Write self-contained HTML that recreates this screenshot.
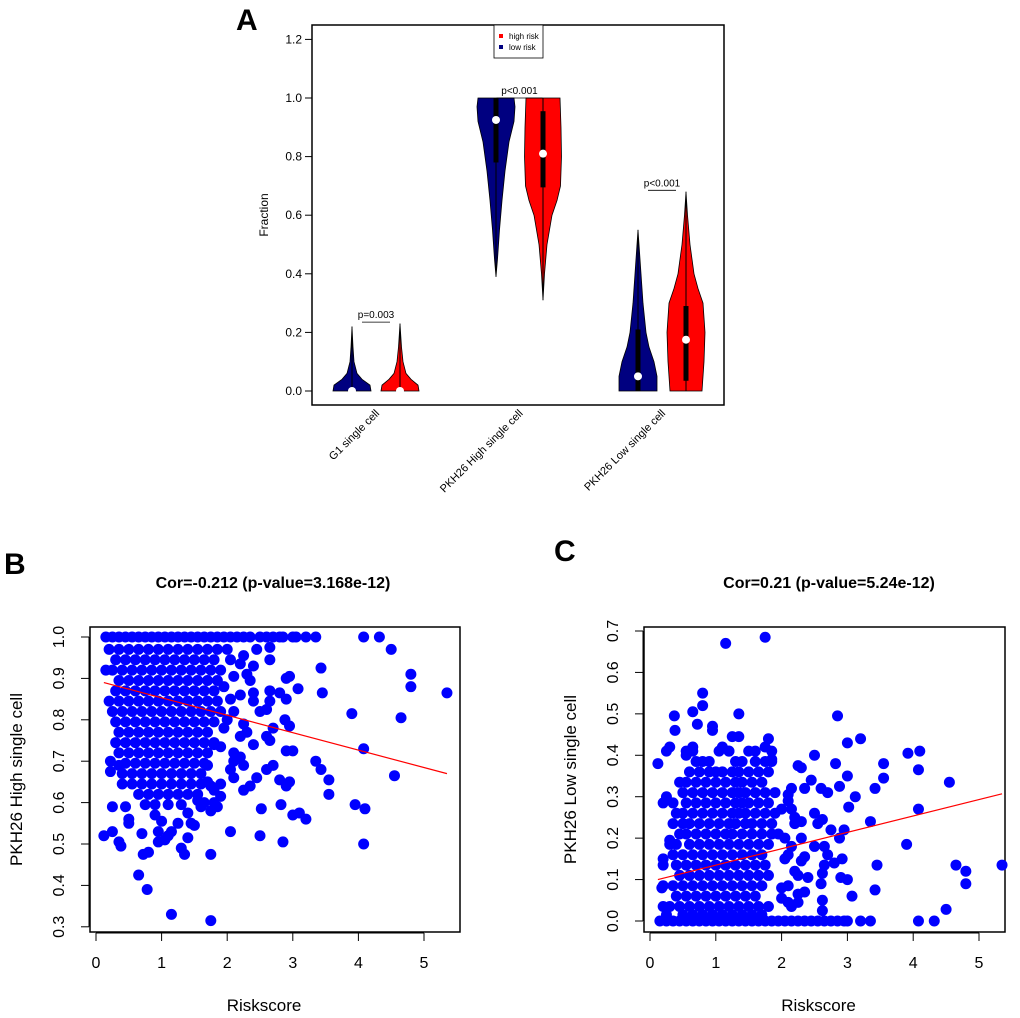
<!DOCTYPE html>
<html><head><meta charset="utf-8"><style>
html,body{margin:0;padding:0;background:#fff;}
svg{display:block;font-family:"Liberation Sans",Arial,sans-serif;}
</style></head><body>
<svg id="fig" width="1020" height="1018" viewBox="0 0 1020 1018" xmlns="http://www.w3.org/2000/svg">
<rect width="1020" height="1018" fill="#fff"/>
<text x="236" y="30" font-size="30" font-weight="bold">A</text>
<text x="4" y="574" font-size="30" font-weight="bold">B</text>
<text x="554" y="561" font-size="30" font-weight="bold">C</text>
<g id="pa"></g>
<g id="pb"></g>
<g id="pc"></g>
</svg>
<script>
// ---------- Panel A data ----------
const violinCategories = ["G1 single cell","PKH26 High single cell","PKH26 Low single cell"];
const violinGroups = ["low risk","high risk"];
const violinPValues = ["p=0.003","p<0.001","p<0.001"];
const violinPHeights = [0.235,1.0,0.685];
const yTicksA = [0,0.2,0.4,0.6,0.8,1.0,1.2];
const lowProfiles = [
 [[0,19],[0.02,18],[0.04,10],[0.06,5],[0.1,2],[0.15,1],[0.22,0]],
 [[0.39,0],[0.45,1.5],[0.55,3.5],[0.65,6],[0.75,9],[0.85,13],[0.92,18],[0.97,19],[1.0,18]],
 [[0,19],[0.05,19],[0.1,16],[0.15,11],[0.2,8],[0.3,5],[0.4,3],[0.5,1],[0.55,0]]
];
const highProfiles = [
 [[0,19],[0.02,18],[0.04,11],[0.06,6],[0.1,3],[0.15,1.5],[0.23,0]],
 [[0.31,0],[0.4,1.5],[0.5,4],[0.6,9],[0.65,14],[0.7,17.5],[0.8,18.5],[0.9,18],[1.0,17]],
 [[0,16],[0.05,17],[0.1,18],[0.2,19],[0.3,17],[0.35,12],[0.4,8],[0.5,4],[0.6,1.5],[0.68,0]]
];
const lowMedian=[0,0.925,0.05], lowQ1=[0,0.78,0], lowQ3=[0.01,1.0,0.21], lowMin=[0,0.39,0], lowMax=[0.22,1.0,0.55];
const highMedian=[0,0.81,0.175], highQ1=[0,0.695,0.035], highQ3=[0.01,0.955,0.29], highMin=[0,0.31,0], highMax=[0.23,1.0,0.68];

// ---------- Panel B data ----------
const bRowY = [0.97,0.945,0.92,0.895,0.87,0.845,0.82,0.795,0.77,0.745,0.72,0.695,0.67,0.645,0.62,0.595,1.0];
const bRowX = [
 [0.2,0.35,0.5,0.65,0.8,0.95,1.1,1.25,1.4,1.55,1.7,1.85,2.0],
 [0.3,0.45,0.6,0.75,0.9,1.05,1.2,1.35,1.5,1.65,1.8],
 [0.15,0.25,0.4,0.55,0.7,0.85,1.0,1.15,1.3,1.45,1.6,1.75,1.9],
 [0.35,0.5,0.65,0.8,0.95,1.1,1.25,1.4,1.55,1.7,1.85],
 [0.3,0.45,0.6,0.75,0.9,1.05,1.2,1.35,1.5,1.65,1.8],
 [0.2,0.35,0.5,0.65,0.8,0.95,1.1,1.25,1.4,1.55,1.7,1.85],
 [0.25,0.4,0.55,0.7,0.85,1.0,1.15,1.3,1.45,1.6,1.75,1.9],
 [0.3,0.45,0.6,0.75,0.9,1.05,1.2,1.35,1.5,1.65,1.8],
 [0.35,0.5,0.65,0.8,0.95,1.1,1.25,1.4,1.55,1.7],
 [0.3,0.45,0.6,0.75,0.9,1.05,1.2,1.35,1.5,1.65,1.8],
 [0.35,0.5,0.65,0.8,0.95,1.1,1.25,1.4,1.55,1.7],
 [0.45,0.6,0.75,0.9,1.05,1.2,1.35,1.5,1.65],
 [0.4,0.55,0.7,0.85,1.0,1.15,1.3,1.45,1.6],
 [0.4,0.55,0.7,0.85,1.0,1.15,1.3,1.45,1.6],
 [0.65,0.8,0.95,1.1,1.25,1.4,1.55],
 [0.75,0.9,1.1,1.3],
 [0.15,0.25,0.35,0.45,0.55,0.65,0.75,0.85,0.95,1.05,1.15,1.25,1.35,1.45,1.55,1.65,1.75,1.85,1.95,2.05,2.15,2.25,2.35,2.5,2.6,2.7,2.8,2.85,3.0,3.05,3.2,3.35,4.08,4.32]
];
const bExtra = [[4.5,0.97],[4.8,0.91],[4.8,0.88],[5.35,0.865],[3.43,0.925],[3.45,0.865],[3.9,0.815],[4.65,0.805],[4.08,0.73],[4.55,0.665],[3.35,0.70],[3.43,0.68],[3.55,0.655],[3.55,0.62],[3.95,0.595],[4.1,0.585],[4.08,0.5],[2.9,0.9],[2.95,0.905],[3.08,0.875],[2.9,0.85],[2.8,0.865],[2.65,0.87],[2.65,0.975],[2.65,0.945],[2.88,0.80],[2.95,0.785],[2.9,0.725],[3.0,0.725],[2.8,0.655],[2.9,0.64],[2.95,0.65],[3.0,0.57],[3.1,0.575],[3.2,0.56],[2.82,0.595],[2.52,0.585],[2.5,0.52],[2.85,0.505],[2.05,0.53],[1.75,0.475],[1.75,0.315],[1.15,0.33],[0.78,0.39],[0.65,0.425],[0.72,0.475],[0.8,0.48],[0.12,0.52],[0.25,0.53],[0.35,0.505],[0.38,0.495],[0.25,0.59],[0.45,0.59],[0.22,0.70],[0.22,0.675],[0.35,0.69],[0.5,0.55],[0.5,0.56],[0.7,0.525],[0.95,0.505],[1.05,0.51],[1.1,0.52],[1.15,0.53],[1.25,0.55],[1.3,0.49],[1.35,0.475],[1.4,0.515],[1.4,0.575],[1.45,0.55],[1.5,0.545],[0.9,0.57],[0.95,0.53],[1.0,0.555],[2.7,0.69],[2.6,0.68],[2.45,0.66],[2.35,0.64],[2.25,0.63],[2.4,0.74],[2.6,0.76],[2.65,0.75],[2.7,0.78],[2.5,0.82],[2.6,0.825],[2.65,0.845],[2.4,0.865],[2.4,0.845],[2.35,0.895],[2.3,0.91],[2.4,0.93],[2.45,0.97],[2.2,0.935],[2.25,0.955],[2.05,0.945],[2.1,0.905],[1.95,0.88],[2.05,0.85],[2.1,0.82],[2.2,0.86],[2.25,0.79],[2.3,0.77],[2.2,0.76],[2.1,0.72],[2.1,0.70],[2.2,0.71],[2.25,0.69],[2.1,0.66],[2.05,0.68],[1.9,0.645],[1.9,0.615],[1.85,0.59],[1.8,0.60],[1.75,0.58],[1.65,0.6],[1.6,0.59],[1.55,0.605],[1.9,0.735],[2.0,0.80],[1.95,0.78],[1.8,0.74],[1.7,0.69],[1.7,0.65],[1.75,0.64],[1.8,0.63]];
const bLineX = [0.12,5.35], bLineY = [0.89,0.67];
const bYTicks = [0.3,0.4,0.5,0.6,0.7,0.8,0.9,1.0];

// ---------- Panel C data ----------
const cRowY = [0.41,0.385,0.36,0.335,0.31,0.285,0.26,0.235,0.21,0.185,0.16,0.135,0.11,0.085,0.06,0.035,0.015,0];
const cRowX = [
 [0.25,0.55,0.65,1.05,1.2,1.5,1.6,1.85],
 [0.7,0.8,0.9,1.3,1.4,1.6,1.75,1.85],
 [0.6,0.75,0.9,1.0,1.1,1.25,1.35,1.5,1.65,1.8],
 [0.45,0.55,0.7,0.85,1.0,1.15,1.3,1.4,1.55,1.7],
 [0.5,0.65,0.8,0.95,1.1,1.25,1.35,1.45,1.6,1.75,1.9],
 [0.2,0.35,0.55,0.7,0.85,1.0,1.15,1.3,1.4,1.5,1.65,1.8],
 [0.4,0.5,0.65,0.8,0.95,1.1,1.25,1.35,1.45,1.6,1.75,1.9],
 [0.35,0.5,0.6,0.75,0.9,1.05,1.2,1.3,1.45,1.55,1.7,1.85],
 [0.45,0.55,0.7,0.85,1.0,1.15,1.25,1.4,1.55,1.7,1.85],
 [0.3,0.4,0.6,0.75,0.9,1.05,1.2,1.35,1.5,1.65,1.8],
 [0.35,0.5,0.65,0.8,0.95,1.1,1.25,1.4,1.55,1.7],
 [0.2,0.4,0.55,0.7,0.85,1.0,1.15,1.3,1.45,1.6,1.75],
 [0.45,0.6,0.75,0.9,1.05,1.2,1.35,1.5,1.65,1.8],
 [0.2,0.35,0.5,0.65,0.8,0.95,1.1,1.25,1.4,1.55,1.7],
 [0.4,0.55,0.7,0.85,1.0,1.15,1.3,1.45,1.6],
 [0.2,0.3,0.45,0.6,0.75,0.9,1.05,1.2,1.35,1.5,1.65,1.8],
 [0.25,0.5,0.65,0.8,0.95,1.1,1.25,1.4,1.55,1.7],
 [0.15,0.25,0.35,0.45,0.55,0.65,0.75,0.85,0.95,1.05,1.15,1.25,1.35,1.45,1.55,1.65,1.75,1.85,1.95,2.05,2.15,2.25,2.35,2.45,2.55,2.65,2.75,2.85,2.95,3.0,3.2,3.35,4.08,4.32]
];
const cExtra = [[0.12,0.38],[1.15,0.67],[1.75,0.685],[0.8,0.55],[0.8,0.52],[0.37,0.495],[0.65,0.505],[0.72,0.475],[1.35,0.5],[0.95,0.47],[0.95,0.46],[0.38,0.46],[1.25,0.445],[1.35,0.445],[1.8,0.44],[2.85,0.495],[3.2,0.44],[3.0,0.43],[2.5,0.40],[2.82,0.38],[2.25,0.375],[2.3,0.37],[3.55,0.38],[3.92,0.405],[4.1,0.41],[4.08,0.365],[3.55,0.345],[3.0,0.35],[2.45,0.34],[2.35,0.32],[2.6,0.32],[2.88,0.325],[3.42,0.32],[4.55,0.335],[3.12,0.30],[3.02,0.275],[4.08,0.27],[3.35,0.24],[2.7,0.31],[2.75,0.22],[2.95,0.22],[2.88,0.20],[3.9,0.185],[2.5,0.26],[2.55,0.235],[2.62,0.245],[2.5,0.18],[2.65,0.18],[2.7,0.16],[2.8,0.14],[2.92,0.15],[2.65,0.135],[2.62,0.115],[2.6,0.09],[2.62,0.05],[2.62,0.025],[2.9,0.105],[3.0,0.10],[3.07,0.06],[3.45,0.135],[3.42,0.075],[4.65,0.135],[4.8,0.12],[4.8,0.09],[5.35,0.135],[4.5,0.028],[2.35,0.155],[2.3,0.145],[2.4,0.105],[2.25,0.11],[2.35,0.07],[2.2,0.12],[2.1,0.085],[2.0,0.08],[2.0,0.055],[2.1,0.045],[2.15,0.035],[2.25,0.065],[2.25,0.045],[2.05,0.15],[2.1,0.16],[2.15,0.18],[2.3,0.2],[2.2,0.235],[2.2,0.25],[2.15,0.27],[2.1,0.29],[2.1,0.305],[2.15,0.32],[2.0,0.27],[2.05,0.2],[1.95,0.21],[2.3,0.24],[0.25,0.3],[0.3,0.42],[0.55,0.4],[0.65,0.42],[1.1,0.42],[1.2,0.41],[1.75,0.42],[1.85,0.39],[0.18,0.08],[0.2,0.15],[0.3,0.195]];
const cLineX = [0.12,5.35], cLineY = [0.10,0.307];
const cYTicks = [0,0.1,0.2,0.3,0.4,0.5,0.6,0.7];
const xTicks = [0,1,2,3,4,5];

// ---------- helpers ----------
const NS="http://www.w3.org/2000/svg";
function mk(parent,tag,attrs,txt){const e=document.createElementNS(NS,tag);for(const k in attrs)e.setAttribute(k,attrs[k]);if(txt!==undefined)e.textContent=txt;parent.appendChild(e);return e;}

// ---------- Panel A ----------
(function(){
 const g=document.getElementById('pa');
 const yA=v=>391-v*(293/1.0);
 const lowX=[352,496,638], highX=[400,543,686];
 let e=mk(g,'rect',{x:312,y:25,width:412,height:380,fill:'none',stroke:'#000','stroke-width':1.5});
 
 
 yTicksA.forEach(t=>{
  let l=mk(g,'line',{x1:305,x2:312,y1:yA(t),y2:yA(t),stroke:'#000'});
  
  
  let tx=mk(g,'text',{x:302,y:yA(t)+4,'font-size':12,'text-anchor':'end'},t.toFixed(1));
  
  
 });
 let yl=mk(g,'text',{x:0,y:0,'font-size':12,'text-anchor':'middle',transform:'translate(268,215) rotate(-90)'},'Fraction');
 
 
 function violin(cx,prof,fill,name){
  let pts=[];
  prof.forEach(p=>pts.push((cx+p[1])+','+yA(p[0])));
  for(let i=prof.length-1;i>=0;i--)pts.push((cx-prof[i][1])+','+yA(prof[i][0]));
  let p=mk(g,'polygon',{points:pts.join(' '),fill:fill,stroke:'#000','stroke-width':0.8});
  
  
 }
 function box(cx,mn,q1,q3,mx,md,name){
  let l=mk(g,'line',{x1:cx,x2:cx,y1:yA(mn),y2:yA(mx),stroke:'#000','stroke-width':1});
  
  
  let b=mk(g,'rect',{x:cx-2.5,y:yA(q3),width:5,height:yA(q1)-yA(q3),fill:'#000'});
  
  
  let c=mk(g,'circle',{cx:cx,cy:yA(md),r:4,fill:'#fff'});
  
  
 }
 for(let i=0;i<3;i++){
  violin(lowX[i],lowProfiles[i],'#000080','violin-low-'+i);
  box(lowX[i],lowMin[i],lowQ1[i],lowQ3[i],lowMax[i],lowMedian[i],'box-low-'+i);
  violin(highX[i],highProfiles[i],'#ff0000','violin-high-'+i);
  box(highX[i],highMin[i],highQ1[i],highQ3[i],highMax[i],highMedian[i],'box-high-'+i);
  const mid=(lowX[i]+highX[i])/2;
  const half = i===1?23:14;
  let pl=mk(g,'line',{x1:mid-half,x2:mid+half,y1:yA(violinPHeights[i]),y2:yA(violinPHeights[i]),stroke:'#000','stroke-width':0.8});
  
  
  let pt=mk(g,'text',{x:mid,y:yA(violinPHeights[i])-4,'font-size':10,'text-anchor':'middle'},violinPValues[i]);
  
  
  const lx=(lowX[i]+highX[i])/2+4;
  let xl=mk(g,'text',{x:0,y:0,'font-size':11,'text-anchor':'end',transform:'translate('+lx+',414) rotate(-45)'},violinCategories[i]);
  
  
 }
 let lg=mk(g,'rect',{x:494,y:25,width:49,height:33,fill:'#fff',stroke:'#000','stroke-width':0.8});
 
 
 const lcol=['#ff0000','#000080'], ltxt=[violinGroups[1],violinGroups[0]];
 for(let k=0;k<2;k++){
  let s=mk(g,'rect',{x:499,y:34+k*11,width:4,height:4,fill:lcol[k]});
  
  
  let t=mk(g,'text',{x:509,y:39+k*11,'font-size':8},ltxt[k]);
  
  
 }
})();

// ---------- Scatter panels ----------
function scatter(gid,frame,x0px,x5px,yRef,rowsY,rowsX,extra,lineX,lineY,yTicks,title,ylabel,titleX,ylabX,ytlX){
 const g=document.getElementById(gid);
 const sx=v=>x0px+v*(x5px-x0px)/5;
 const sy=v=>yRef.py0-(v-yRef.v0)*yRef.k;
 let f=mk(g,'rect',{x:frame[0],y:frame[1],width:frame[2],height:frame[3],fill:'none',stroke:'#000','stroke-width':1.5});
 
 
 const axY=frame[1]+frame[3]+1;
 let ax=mk(g,'line',{x1:sx(0),x2:sx(5),y1:axY,y2:axY,stroke:'#000'});
 
 
 xTicks.forEach(t=>{
  let l=mk(g,'line',{x1:sx(t),x2:sx(t),y1:axY,y2:axY+8,stroke:'#000'});
  
  
  let tx=mk(g,'text',{x:sx(t),y:axY+35,'font-size':16,'text-anchor':'middle'},String(t));
  
  
 });
 const axX=frame[0]-1;
 let ay=mk(g,'line',{x1:axX,x2:axX,y1:sy(yTicks[0]),y2:sy(yTicks[yTicks.length-1]),stroke:'#000'});
 
 
 yTicks.forEach(t=>{
  let l=mk(g,'line',{x1:axX-8,x2:axX,y1:sy(t),y2:sy(t),stroke:'#000'});
  
  
  let tx=mk(g,'text',{x:0,y:0,'font-size':16,'text-anchor':'middle',transform:'translate('+ytlX+','+sy(t)+') rotate(-90)'},t.toFixed(1));
  
  
 });
 let ti=mk(g,'text',{x:titleX,y:588,'font-size':16,'font-weight':'bold','text-anchor':'middle'},title);
 
 
 let xl=mk(g,'text',{x:(sx(0)+sx(5))/2+4,y:1011,'font-size':17,'text-anchor':'middle'},'Riskscore');
 
 
 let yl=mk(g,'text',{x:0,y:0,'font-size':17,'text-anchor':'middle',transform:'translate('+ylabX+','+(frame[1]+frame[3]/2)+') rotate(-90)'},ylabel);
 
 
 const pts=g.appendChild(document.createElementNS(NS,'g'));
 
 
 rowsY.forEach((y,i)=>rowsX[i].forEach(x=>{
  let c=mk(pts,'circle',{cx:sx(x),cy:sy(y),r:5.5,fill:'#0000ff'});
  
  
 }));
 extra.forEach(p=>{
  let c=mk(pts,'circle',{cx:sx(p[0]),cy:sy(p[1]),r:5.5,fill:'#0000ff'});
  
  
 });
 let rl=mk(g,'line',{x1:sx(lineX[0]),y1:sy(lineY[0]),x2:sx(lineX[1]),y2:sy(lineY[1]),stroke:'#ff0000','stroke-width':1.2});
 
 
}
scatter('pb',[90,627,370,305],96,424,{py0:637,v0:1.0,k:414},bRowY,bRowX,bExtra,bLineX,bLineY,bYTicks,
 'Cor=-0.212 (p-value=3.168e-12)','PKH26 High single cell',273,22,64);
scatter('pc',[644,627,361,305],650,979,{py0:921,v0:0,k:414.3},cRowY,cRowX,cExtra,cLineX,cLineY,cYTicks,
 'Cor=0.21 (p-value=5.24e-12)','PKH26 Low single cell',829,576,618);
</script>
</body></html>
